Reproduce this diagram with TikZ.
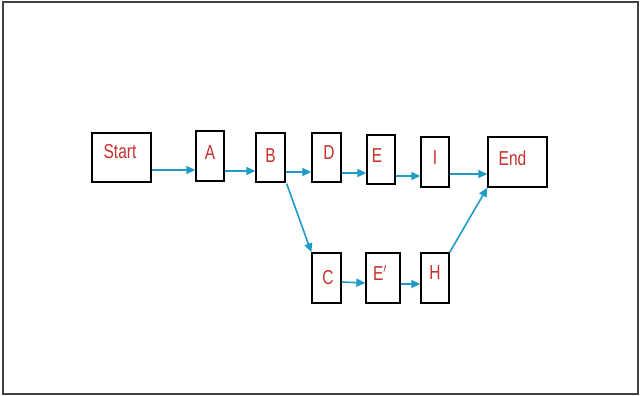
\documentclass[tikz,border=0pt]{standalone}
\usepackage{fontspec}
\setmainfont{Liberation Sans}
\usetikzlibrary{arrows.meta}
\definecolor{arrowblue}{HTML}{1E9CC6}
\definecolor{labred}{HTML}{C8302C}
\tikzset{
  box/.style={draw=black, line width=1.3pt, fill=white, inner sep=0pt},
  lab/.style={text=labred, font=\fontsize{15.5}{15.5}\selectfont, inner sep=0pt},
  arr/.style={draw=arrowblue, line width=1.6pt, -{Triangle[length=9pt,width=8pt]}},
}
\newcommand{\tall}[1]{\scalebox{1}[1.3]{#1}}
\begin{document}
\begin{tikzpicture}[x=1pt,y=-1pt]
\useasboundingbox (0,0) rectangle (640,396);
\draw[draw=black!75, line width=2pt] (2.5,2.5) rectangle (637.5,393.5);

\node[box, minimum width=59pt, minimum height=49pt, label={[lab,xshift=-1.5pt,yshift=5.5pt]center:\tall{Start}}] (Start) at (121.5,157.5) {};
\node[box, minimum width=28pt, minimum height=50pt, label={[lab,yshift=3pt]center:\tall{A}}] (A) at (210,156) {};
\node[box, minimum width=29pt, minimum height=49pt, label={[lab,yshift=1.5pt]center:\tall{B}}] (B) at (270.5,157.5) {};
\node[box, minimum width=29pt, minimum height=49pt, label={[lab,xshift=2.5pt,yshift=4.5pt]center:\tall{D}}] (D) at (326.5,157.5) {};
\node[box, minimum width=28pt, minimum height=49pt, label={[lab,xshift=-4pt,yshift=3.5pt]center:\tall{E}}] (E) at (381,159.5) {};
\node[box, minimum width=28pt, minimum height=50pt, label={[lab,yshift=4pt]center:\tall{I}}] (I) at (435,162) {};
\node[box, minimum width=59pt, minimum height=50pt, label={[lab,xshift=-5pt,yshift=4pt]center:\tall{End}}] (End) at (517.5,162) {};
\node[box, minimum width=29pt, minimum height=50pt, label={[lab,xshift=1.5pt]center:\tall{C}}] (C) at (326.5,278) {};
\node[box, minimum width=34pt, minimum height=50pt, label={[lab,xshift=-3pt,yshift=5pt]center:\tall{E$'$}}] (Ep) at (383,278) {};
\node[box, minimum width=28pt, minimum height=50pt, label={[lab,yshift=5pt]center:\tall{H}}] (H) at (435,278) {};

\draw[arr] ([yshift=-12.5pt]Start.east) -- ([yshift=-14pt]A.west);
\draw[arr] ([yshift=-15pt]A.east) -- ([yshift=-13.5pt]B.west);
\draw[arr] ([yshift=-14.5pt]B.east) -- ([yshift=-14.5pt]D.west);
\draw[arr] ([yshift=-15.5pt]D.east) -- ([yshift=-13.5pt]E.west);
\draw[arr] ([yshift=-16.5pt]E.east) -- ([yshift=-14pt]I.west);
\draw[arr] ([yshift=-12pt]I.east) -- ([yshift=-12pt]End.west);
\draw[arr] ([xshift=1pt,yshift=-1pt]B.south east) -- (C.north west);
\draw[arr] ([yshift=-4pt]C.east) -- ([yshift=-5pt]Ep.west);
\draw[arr] ([yshift=-6pt]Ep.east) -- ([yshift=-6pt]H.west);
\draw[arr] (H.north east) -- (End.south west);
\end{tikzpicture}
\end{document}
